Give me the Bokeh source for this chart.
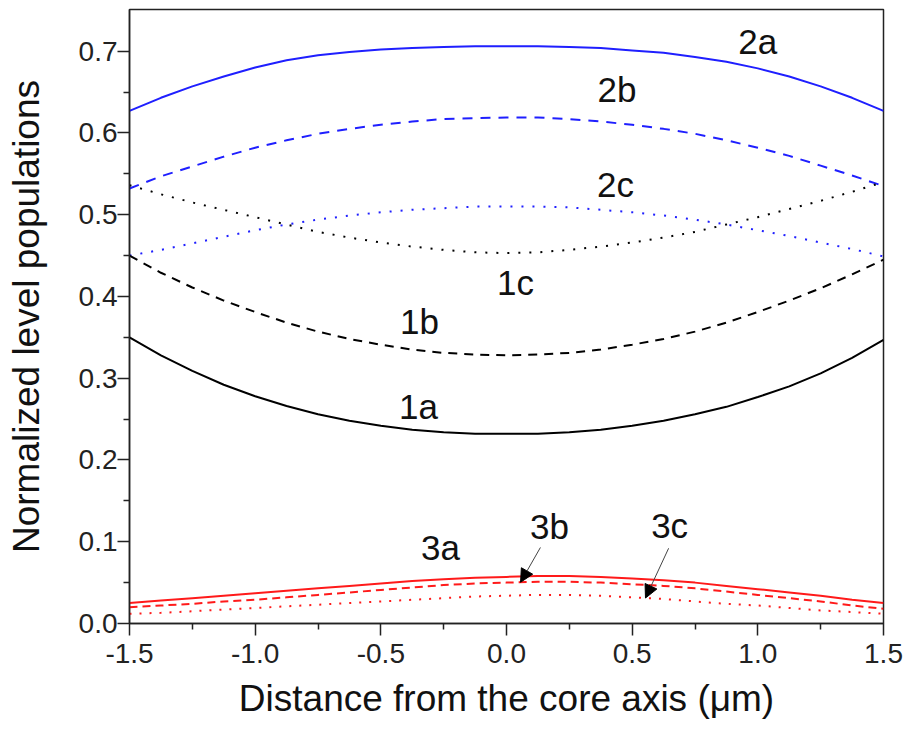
from bokeh.plotting import figure
from bokeh.models import Range1d, FixedTicker, PrintfTickFormatter, Arrow, NormalHead, Label
from bokeh.embed import file_html
from bokeh.resources import INLINE
import numpy as np

# Radial positions (um) and normalized level populations
r = [-1.5, -1.375, -1.25, -1.125, -1.0, -0.875, -0.75, -0.625, -0.5, -0.375, -0.25, -0.125, 0.0,
     0.125, 0.25, 0.375, 0.5, 0.625, 0.75, 0.875, 1.0, 1.125, 1.25, 1.375, 1.5]

pop_2a = [0.627, 0.643, 0.657, 0.669, 0.680, 0.689, 0.695, 0.699, 0.702, 0.704, 0.705, 0.706, 0.706,
          0.706, 0.705, 0.704, 0.701, 0.698, 0.693, 0.687, 0.679, 0.669, 0.657, 0.643, 0.627]
pop_2b = [0.532, 0.547, 0.559, 0.571, 0.582, 0.591, 0.599, 0.605, 0.610, 0.614, 0.617, 0.618, 0.619,
          0.619, 0.617, 0.614, 0.610, 0.605, 0.599, 0.591, 0.582, 0.572, 0.560, 0.548, 0.535]
pop_2c = [0.450, 0.457, 0.465, 0.473, 0.481, 0.488, 0.494, 0.499, 0.503, 0.506, 0.508, 0.510, 0.510,
          0.510, 0.509, 0.506, 0.503, 0.499, 0.494, 0.488, 0.481, 0.474, 0.466, 0.458, 0.449]
pop_1c = [0.536, 0.525, 0.515, 0.506, 0.497, 0.488, 0.479, 0.472, 0.466, 0.461, 0.457, 0.454, 0.453,
          0.454, 0.457, 0.461, 0.466, 0.472, 0.479, 0.488, 0.497, 0.507, 0.517, 0.528, 0.540]
pop_1b = [0.450, 0.429, 0.411, 0.395, 0.381, 0.368, 0.357, 0.348, 0.341, 0.335, 0.331, 0.329, 0.328,
          0.329, 0.331, 0.335, 0.341, 0.348, 0.357, 0.368, 0.381, 0.395, 0.410, 0.427, 0.445]
pop_1a = [0.350, 0.328, 0.309, 0.292, 0.278, 0.266, 0.256, 0.248, 0.242, 0.237, 0.234, 0.232, 0.232,
          0.232, 0.234, 0.237, 0.242, 0.248, 0.256, 0.265, 0.277, 0.290, 0.306, 0.325, 0.347]
pop_3a = [0.025, 0.028, 0.031, 0.034, 0.037, 0.040, 0.043, 0.046, 0.049, 0.052, 0.054, 0.056, 0.057,
          0.058, 0.058, 0.057, 0.055, 0.053, 0.050, 0.046, 0.042, 0.038, 0.034, 0.029, 0.025]
pop_3b = [0.020, 0.022, 0.024, 0.027, 0.029, 0.032, 0.035, 0.038, 0.041, 0.044, 0.047, 0.049, 0.050,
          0.051, 0.051, 0.050, 0.048, 0.046, 0.043, 0.039, 0.035, 0.031, 0.027, 0.022, 0.018]
pop_3c = [0.012, 0.013, 0.015, 0.017, 0.019, 0.021, 0.023, 0.025, 0.027, 0.029, 0.031, 0.033, 0.034,
          0.035, 0.035, 0.034, 0.032, 0.030, 0.027, 0.024, 0.022, 0.019, 0.016, 0.014, 0.012]

x_ticks = [-1.5, -1.0, -0.5, 0.0, 0.5, 1.0, 1.5]
x_minor = [-1.25, -0.75, -0.25, 0.25, 0.75, 1.25]
y_ticks = [0.0, 0.1, 0.2, 0.3, 0.4, 0.5, 0.6, 0.7]
y_minor = [0.05, 0.15, 0.25, 0.35, 0.45, 0.55, 0.65]

BLUE = "#1f1fff"
RED = "#ff1a1a"
BLACK = "#000000"
FONT = "Liberation Sans"

p = figure(width=905, height=731, output_backend="svg", toolbar_location=None,
           x_range=Range1d(-1.5, 1.5), y_range=Range1d(0.0, 0.751),
           min_border_left=129, min_border_right=22, min_border_top=9, min_border_bottom=108)
p.grid.visible = False
p.background_fill_color = "white"
p.border_fill_color = "white"
p.outline_line_color = "#222222"
p.outline_line_width = 1.5

for ax in (p.xaxis[0], p.yaxis[0]):
    ax.axis_line_color = "#222222"
    ax.axis_line_width = 1.5
    ax.major_tick_line_color = "#222222"
    ax.minor_tick_line_color = "#222222"
    ax.major_tick_line_width = 1.5
    ax.minor_tick_line_width = 1.5
    ax.major_tick_out = 12
    ax.major_tick_in = 0
    ax.minor_tick_out = 6
    ax.minor_tick_in = 0
    ax.major_label_text_font = FONT
    ax.major_label_text_font_size = "28px"
    ax.major_label_text_color = "#222222"
    ax.axis_label_text_font = FONT
    ax.axis_label_text_font_size = "37px"
    ax.axis_label_text_font_style = "normal"
    ax.axis_label_text_color = "#111111"
    ax.formatter = PrintfTickFormatter(format="%.1f")

p.xaxis[0].ticker = FixedTicker(ticks=x_ticks, minor_ticks=x_minor)
p.yaxis[0].ticker = FixedTicker(ticks=y_ticks, minor_ticks=y_minor)
p.xaxis[0].axis_label = "Distance from the core axis (\u03bcm)"
p.yaxis[0].axis_label = "Normalized level populations"
p.xaxis[0].major_label_standoff = 8
p.yaxis[0].major_label_standoff = 0
p.xaxis[0].axis_label_standoff = 12
p.yaxis[0].axis_label_standoff = 29

# level 2 (blue)
p.line(r, pop_2a, line_color=BLUE, line_width=2)
p.line(r, pop_2b, line_color=BLUE, line_width=2, line_dash="10 8")
p.line(r, pop_2c, line_color=BLUE, line_width=2, line_dash="2 9")
# level 1 (black)
p.line(r, pop_1a, line_color=BLACK, line_width=2)
p.line(r, pop_1b, line_color=BLACK, line_width=2, line_dash="9 7")
p.line(r, pop_1c, line_color=BLACK, line_width=2, line_dash="2 9")
# level 3 (red)
p.line(r, pop_3a, line_color=RED, line_width=2)
p.line(r, pop_3b, line_color=RED, line_width=2, line_dash="8 5")
p.line(r, pop_3c, line_color=RED, line_width=2, line_dash="2 8")

# curve labels
labels = [("2a", 1.0, 0.712), ("2b", 0.44, 0.653), ("2c", 0.434, 0.537),
          ("1c", 0.036, 0.4175), ("1b", -0.346, 0.369), ("1a", -0.35, 0.265),
          ("3a", -0.263, 0.0935), ("3b", 0.171, 0.119), ("3c", 0.649, 0.12)]
for txt, lx, ly in labels:
    p.add_layout(Label(x=lx, y=ly, text=txt, text_font=FONT, text_font_size="35px",
                       text_color="#111111", text_align="center", text_baseline="middle"))

# pointers to the 3b and 3c curves
for sx, sy, tx, series in [(0.135, 0.093, 0.056, pop_3b), (0.645, 0.092, 0.553, pop_3c)]:
    ty = float(np.interp(tx, r, series))
    p.add_layout(Arrow(end=NormalHead(size=13, fill_color="black", line_color="black"),
                       x_start=sx, y_start=sy, x_end=tx, y_end=ty,
                       line_color="#444444", line_width=1))

open("out.html", "w").write(file_html(p, INLINE))
